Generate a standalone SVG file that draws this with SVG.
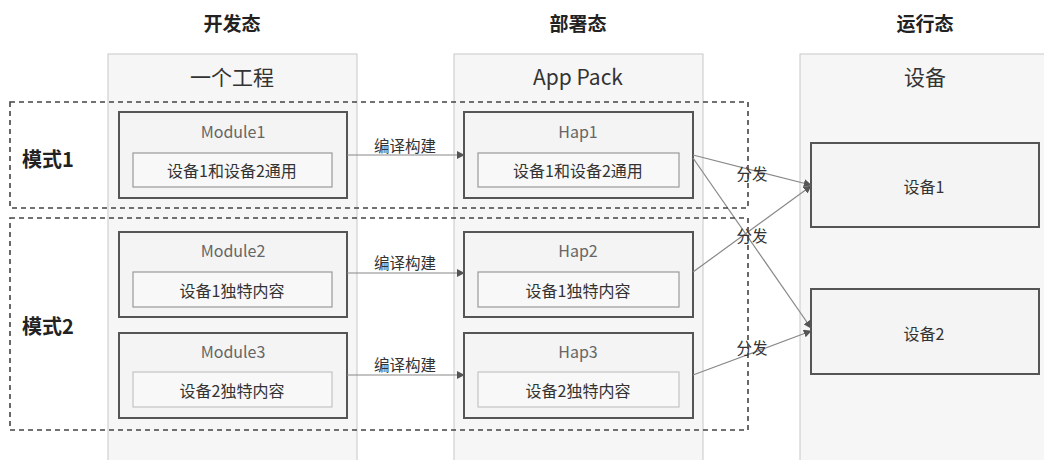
<svg xmlns="http://www.w3.org/2000/svg" width="1044" height="460" viewBox="0 0 1044 460">
<style>
text{font-family:"Noto Sans CJK SC","Noto Sans",sans-serif;text-anchor:middle;dominant-baseline:central}
.title{font-size:19px;font-weight:bold;fill:#222}
.head{font-size:21px;fill:#333}
.panel{fill:#f6f6f6;stroke:#c8c8c8;stroke-width:1}
.box{fill:#f4f4f4;stroke:#555;stroke-width:2}
.inner{fill:#f8f8f8;stroke:#999;stroke-width:1.2}
.inner2{fill:#f8f8f8;stroke:#c4c4c4;stroke-width:1.2}
.mt{font-size:16px;fill:#666}
.it{font-size:16px;fill:#333}
.lbl{font-size:15.5px;fill:#333}
.mode{font-size:20px;font-weight:bold;fill:#222}
.dash{fill:none;stroke:#444;stroke-width:1.6;stroke-dasharray:5 4}
.conn{stroke:#888;stroke-width:1.2;fill:none;marker-end:url(#ah)}
</style>
<defs>
<marker id="ah" viewBox="0 0 10 10" refX="9" refY="5" markerWidth="8" markerHeight="8" markerUnits="userSpaceOnUse" orient="auto">
<path d="M0,0 L10,5 L0,10 z" fill="#555"/>
</marker>
</defs>
<g id="titles">
<text class="title" x="232" y="22">开发态</text>
<text class="title" x="578" y="22">部署态</text>
<text class="title" x="925" y="22">运行态</text>
</g>
<g id="panel-dev">
<rect class="panel" x="108" y="54" width="249" height="420"/>
<text class="head" x="232" y="76">一个工程</text>
</g>
<g id="panel-deploy">
<rect class="panel" x="454" y="54" width="249" height="420"/>
<text class="head" x="578" y="76">App Pack</text>
</g>
<g id="panel-run">
<rect class="panel" x="800" y="54" width="260" height="420"/>
<text class="head" x="925" y="76">设备</text>
</g>
<g id="module1">
<rect class="box" x="119" y="112" width="228" height="86"/>
<text class="mt" x="233" y="131">Module1</text>
<rect class="inner" x="133" y="153" width="199" height="34"/>
<text class="it" x="232" y="170">设备1和设备2通用</text>
</g>
<g id="module2">
<rect class="box" x="119" y="232" width="228" height="85"/>
<text class="mt" x="233" y="250">Module2</text>
<rect class="inner" x="133" y="272" width="199" height="35"/>
<text class="it" x="232" y="290">设备1独特内容</text>
</g>
<g id="module3">
<rect class="box" x="119" y="333" width="228" height="85"/>
<text class="mt" x="233" y="351">Module3</text>
<rect class="inner2" x="133" y="372" width="199" height="35"/>
<text class="it" x="232" y="390">设备2独特内容</text>
</g>
<g id="hap1">
<rect class="box" x="464" y="112" width="229" height="86"/>
<text class="mt" x="578" y="131">Hap1</text>
<rect class="inner" x="478" y="153" width="201" height="34"/>
<text class="it" x="578" y="170">设备1和设备2通用</text>
</g>
<g id="hap2">
<rect class="box" x="464" y="232" width="229" height="85"/>
<text class="mt" x="578" y="250">Hap2</text>
<rect class="inner" x="478" y="272" width="201" height="35"/>
<text class="it" x="578" y="290">设备1独特内容</text>
</g>
<g id="hap3">
<rect class="box" x="464" y="333" width="229" height="85"/>
<text class="mt" x="578" y="351">Hap3</text>
<rect class="inner2" x="478" y="372" width="201" height="35"/>
<text class="it" x="578" y="390">设备2独特内容</text>
</g>
<g id="device1">
<rect class="box" x="811" y="143" width="228" height="84"/>
<text class="it" x="924" y="186">设备1</text>
</g>
<g id="device2">
<rect class="box" x="811" y="289" width="228" height="85"/>
<text class="it" x="924" y="333">设备2</text>
</g>
<g id="connectors">
<line class="conn" x1="347" y1="155" x2="464" y2="155"/>
<line class="conn" x1="347" y1="273" x2="464" y2="273"/>
<line class="conn" x1="347" y1="375" x2="464" y2="375"/>
<line class="conn" x1="693" y1="155" x2="811" y2="185"/>
<line class="conn" x1="693" y1="158" x2="811" y2="328"/>
<line class="conn" x1="693" y1="272" x2="811" y2="186"/>
<line class="conn" x1="693" y1="375" x2="811" y2="331"/>
<text class="lbl" x="405" y="145">编译构建</text>
<text class="lbl" x="405" y="262">编译构建</text>
<text class="lbl" x="405" y="364">编译构建</text>
<text class="lbl" x="752" y="173">分发</text>
<text class="lbl" x="752" y="235">分发</text>
<text class="lbl" x="752" y="347">分发</text>
</g>
<g id="mode1">
<rect class="dash" x="10" y="102" width="738" height="106"/>
<text class="mode" x="48" y="158">模式1</text>
</g>
<g id="mode2">
<rect class="dash" x="10" y="218" width="738" height="212"/>
<text class="mode" x="48" y="325">模式2</text>
</g>
</svg>
